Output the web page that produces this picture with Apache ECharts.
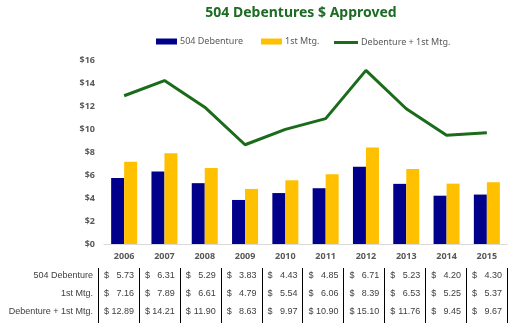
<!DOCTYPE html>
<html><head><meta charset="utf-8">
<script src="https://cdn.jsdelivr.net/npm/echarts@6/dist/echarts.min.js"></script>
<style>html,body{margin:0;padding:0;background:#fff}#c{width:511px;height:323px}</style>
</head><body><div id="c"></div>
<script>
var years = ['2006','2007','2008','2009','2010','2011','2012','2013','2014','2015'];
var debenture = [5.73,6.31,5.29,3.83,4.43,4.85,6.71,5.23,4.20,4.30];
var firstMtg = [7.16,7.89,6.61,4.79,5.54,6.06,8.39,6.53,5.25,5.37];
var combined = [12.89,14.21,11.90,8.63,9.97,10.90,15.10,11.76,9.45,9.67];
var yTicks = [0,2,4,6,8,10,12,14,16];
var rowNames = ['504 Debenture','1st Mtg.','Debenture + 1st Mtg.'];
var rows = [debenture, firstMtg, combined];

var chart = echarts.init(document.getElementById('c'), null, {renderer:'canvas'});
var catFont = 'Noto Sans';
var legendText = {color:'#595959', fontSize:9, fontFamily:catFont, padding:[0,0,0,-2]};
chart.setOption({
  animation:false,
  title:{text:'504 Debentures $ Approved', left:296, top:1, textAlign:'center',
    textStyle:{color:'#1d6b24', fontSize:14, fontWeight:'bold', fontFamily:catFont}},
  legend:[
    {left:151, top:32, itemWidth:21, itemHeight:6, itemGap:18, textStyle:legendText,
      data:[{name:'504 Debenture', icon:'rect'},{name:'1st Mtg.', icon:'rect'}]},
    {left:329, top:33, itemWidth:24, itemHeight:3, textStyle:legendText,
      data:[{name:'Debenture + 1st Mtg.', icon:'rect'}]}
  ],
  grid:{left:104, right:4, top:60, bottom:79, containLabel:false},
  xAxis:{type:'category', data:years, boundaryGap:true,
    axisLine:{lineStyle:{color:'#d9d9d9'}}, axisTick:{show:false},
    axisLabel:{color:'#595959', fontSize:9, fontWeight:'bold', fontFamily:catFont, margin:8}},
  yAxis:{type:'value', min:yTicks[0], max:yTicks[yTicks.length-1], interval:2,
    axisLine:{show:false}, axisTick:{show:false}, splitLine:{show:false},
    axisLabel:{color:'#595959', fontSize:9, fontWeight:'bold', fontFamily:catFont, margin:9,
      formatter:function(v){return '$'+v;}}},
  series:[
    {name:'504 Debenture', type:'bar', data:debenture, barWidth:13, barGap:'0%', itemStyle:{color:'#00008b'}},
    {name:'1st Mtg.', type:'bar', data:firstMtg, barWidth:13, itemStyle:{color:'#ffc000'}},
    {name:'Debenture + 1st Mtg.', type:'line', data:combined, symbol:'none', showSymbol:false,
      lineStyle:{color:'#1a6b1a', width:3}, itemStyle:{color:'#1a6b1a'}}
  ]
});

// Data table under the chart, positioned from the category axis
function buildTable(){
  var g = [];
  var c0 = chart.convertToPixel({xAxisIndex:0}, years[0]);
  var c1 = chart.convertToPixel({xAxisIndex:0}, years[1]);
  var bw = c1 - c0;
  var left0 = c0 - bw/2 - 6;
  var step = bw + 0.6;
  var rowY = [276, 294, 312];
  var tf = 'Liberation Sans, Arial, sans-serif';
  for (var k=0;k<=years.length;k++){
    var x = Math.round(left0 + k*step) + 0.5;
    g.push({type:'line', silent:true, shape:{x1:x,y1:268,x2:x,y2:323}, style:{stroke:'#000', lineWidth:1}});
  }
  for (var r=0;r<rows.length;r++){
    g.push({type:'text', silent:true, style:{text:rowNames[r], x:93, y:rowY[r], textAlign:'right', textVerticalAlign:'middle',
      fill:'#404040', font:'9px '+tf}});
    for (var i=0;i<years.length;i++){
      var l = left0 + i*step, rr = left0 + (i+1)*step;
      g.push({type:'text', silent:true, style:{text:'$', x:l+6, y:rowY[r], textAlign:'left', textVerticalAlign:'middle', fill:'#404040', font:'9px '+tf}});
      g.push({type:'text', silent:true, style:{text:rows[r][i].toFixed(2), x:rr-5, y:rowY[r], textAlign:'right', textVerticalAlign:'middle', fill:'#404040', font:'9px '+tf}});
    }
  }
  chart.setOption({graphic:g});
}
buildTable();
</script>
</body></html>
